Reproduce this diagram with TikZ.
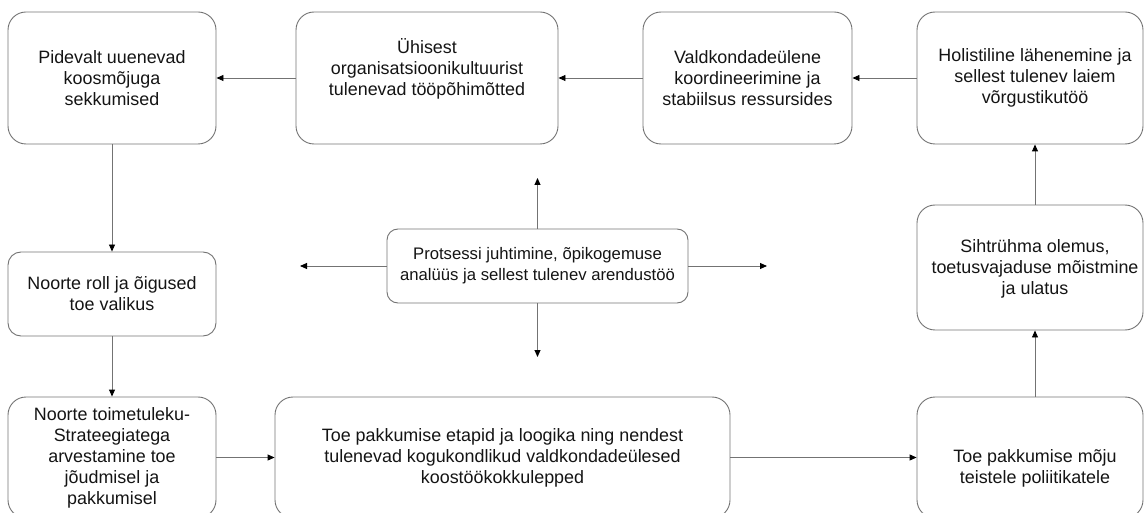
\documentclass[tikz,border=0pt]{standalone}
\usepackage{fontspec}
\setmainfont{Liberation Sans}
\usetikzlibrary{arrows.meta}
\tikzset{
  box/.style={draw=black!55, line width=0.9pt, rounded corners=18pt, inner sep=0pt, align=center,
    font=\fontsize{17.9pt}{21pt}\selectfont, text=black!92},
  txt/.style={inner sep=0pt, align=center, font=\fontsize{17.9pt}{21pt}\selectfont, text=black!92},
  conn/.style={draw=black!55, line width=0.9pt, -{Triangle[length=7pt,width=6pt,color=black]}}
}
\begin{document}
\begin{tikzpicture}[x=1pt,y=-1pt]
\useasboundingbox (0,0) rectangle (1144,513);
% top row
\node[box, minimum width=208pt, minimum height=132pt] (A) at (112,78) {Pidevalt uuenevad\\koosmõjuga\\sekkumised};
\node[box, minimum width=262pt, minimum height=132pt] (B) at (427,78) {Ühisest\\organisatsioonikultuurist\\tulenevad tööpõhimõtted\\\mbox{}};
\node[box, minimum width=209pt, minimum height=132pt] (C) at (747.5,78) {Valdkondadeülene\\koordineerimine ja\\stabiilsus ressursides};
\node[box, minimum width=226pt, minimum height=132pt] (D) at (1030,78) {};
\node[txt] (Dt) at (1035,78) {Holistiline lähenemine ja\\sellest tulenev laiem\\võrgustikutöö};
% left column
\node[box, rounded corners=13pt, minimum width=208pt, minimum height=84pt] (E) at (112,294) {Noorte roll ja õigused\\toe valikus};
\node[box, minimum width=208pt, minimum height=121pt] (F) at (112,457.5) {Noorte toimetuleku-\\Strateegiatega\\arvestamine toe\\jõudmisel ja\\pakkumisel};
% bottom row
\node[box, minimum width=455pt, minimum height=121pt] (G) at (502.5,457.5) {Toe pakkumise etapid ja loogika ning nendest\\tulenevad kogukondlikud valdkondadeülesed\\koostöökokkulepped};
\node[box, minimum width=226pt, minimum height=121pt] (H) at (1030,457.5) {};
\node[txt] (Ht) at (1035,468) {Toe pakkumise mõju\\teistele poliitikatele};
% right column
\node[box, minimum width=226pt, minimum height=125pt] (I) at (1030,267.5) {};
\node[txt] (It) at (1035,269) {Sihtrühma olemus,\\toetusvajaduse mõistmine\\ja ulatus};
% centre
\node[box, rounded corners=11pt, minimum width=301pt, minimum height=74pt, font=\fontsize{16.7pt}{21pt}\selectfont] (J) at (537.5,266) {Protsessi juhtimine, õpikogemuse\\analüüs ja sellest tulenev arendustöö};
\coordinate (Jup) at (537.5,178);
\coordinate (Jdown) at (537.5,357);
\coordinate (Jleft) at (300,266);
\coordinate (Jright) at (767,266);
% connectors
\draw[conn] (D.west) -- (C.east);
\draw[conn] (C.west) -- (B.east);
\draw[conn] (B.west) -- (A.east);
\draw[conn] (A.south) -- (E.north);
\draw[conn] (E.south) -- (F.north);
\draw[conn] (F.east) -- (G.west);
\draw[conn] (G.east) -- (H.west);
\draw[conn] ([xshift=5pt]H.north) -- ([xshift=5pt]I.south);
\draw[conn] ([xshift=5pt]I.north) -- ([xshift=5pt]D.south);
\draw[conn] (J.north) -- (Jup);
\draw[conn] (J.south) -- (Jdown);
\draw[conn] (J.west) -- (Jleft);
\draw[conn] (J.east) -- (Jright);
\end{tikzpicture}
\end{document}
